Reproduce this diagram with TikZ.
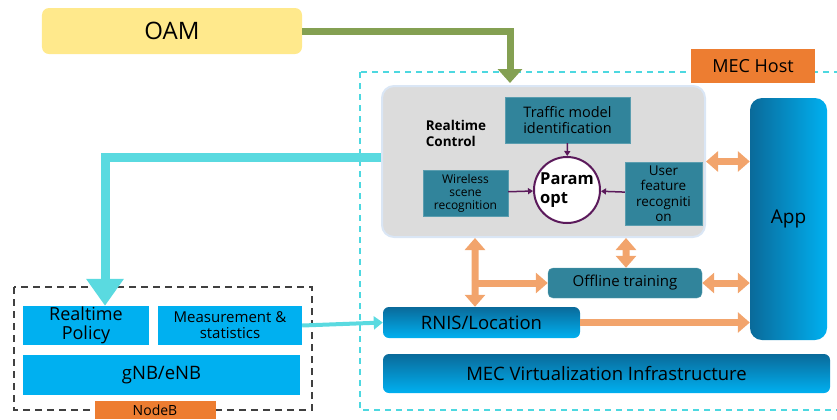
\documentclass[tikz,border=0pt]{standalone}
\usepackage{fontspec}
\setmainfont{Open Sans}
\usepackage{tikz}
\usetikzlibrary{arrows.meta,calc,positioning,shapes.geometric}
\definecolor{oamgelb}{HTML}{FFE98C}
\definecolor{oamgruen}{HTML}{84A052}
\definecolor{mecorange}{HTML}{ED7D31}
\definecolor{rahmencyan}{HTML}{4DD8E0}
\definecolor{pfeilcyan}{HTML}{5ADAE0}
\definecolor{rcgrau}{HTML}{DCDCDC}
\definecolor{rcrand}{HTML}{DAE6F5}
\definecolor{petrol}{HTML}{31849B}
\definecolor{lila}{HTML}{5B1A5B}
\definecolor{hellblau}{HTML}{00B0F0}
\definecolor{dunkelblau}{HTML}{0A6A9A}
\definecolor{pfeilorange}{HTML}{F2A46C}
\tikzset{
  kasten/.style={inner sep=0pt,align=center,text=black},
  blaukasten/.style={kasten,fill=hellblau,font=\fontsize{18bp}{19bp}\selectfont},
  petrolkasten/.style={kasten,fill=petrol,draw=petrol!80!white},
  verlaufkasten/.style={kasten,rounded corners=6bp,top color=dunkelblau,bottom color=hellblau,font=\fontsize{18.5bp}{19bp}\selectfont},
  etikett/.style={kasten,fill=mecorange},
  opfeil/.style={draw=pfeilorange,line width=7bp,{Triangle[width=20bp,length=12bp]}-{Triangle[width=20bp,length=12bp]}},
  ospitze/.style={draw=pfeilorange,line width=7bp,-{Triangle[width=20bp,length=12bp]}},
  lpfeil/.style={draw=lila,line width=1.5bp,-{Triangle[width=6bp,length=5bp]}},
}
\begin{document}
\begin{tikzpicture}[x=1bp,y=-1bp]
\useasboundingbox (0,0) rectangle (837,419);
%Rahmen MEC Host und NodeB
\draw[rahmencyan,line width=1.5bp,dash pattern=on 6bp off 5bp] (360,72) rectangle (845,410);
\draw[black!75,line width=1.5bp,dash pattern=on 7bp off 5bp] (14,287) rectangle (312,410);
\node[etikett,minimum width=124bp,minimum height=34bp,font=\fontsize{18bp}{19bp}\selectfont] (mechost) at (753,66) {MEC Host};
\node[etikett,minimum width=121bp,minimum height=18bp,font=\fontsize{14bp}{15bp}\selectfont] (nodeb) at (155,410) {NodeB};
%OAM
\node[kasten,fill=oamgelb,rounded corners=7bp,minimum width=260bp,minimum height=46bp,font=\fontsize{24bp}{25bp}\selectfont] (oam) at (172,31) {OAM};
%Realtime Control
\node[kasten,fill=rcgrau,draw=rcrand,line width=2bp,rounded corners=12bp,minimum width=323bp,minimum height=151bp] (rc) at (543.5,161.5) {};
\node[kasten,font=\fontsize{13.5bp}{16bp}\selectfont\bfseries,align=left] (rctext) at (456,133) {Realtime\\Control};
\node[petrolkasten,minimum width=125bp,minimum height=46bp,font=\fontsize{14.5bp}{16bp}\selectfont] (traffic) at (567.5,120) {Traffic model\\identification};
\node[petrolkasten,minimum width=85bp,minimum height=46bp,font=\fontsize{12bp}{13bp}\selectfont] (wireless) at (465.5,193) {Wireless\\scene\\recognition};
\node[petrolkasten,minimum width=77bp,minimum height=63bp,font=\fontsize{13.5bp}{15.5bp}\selectfont] (user) at (663.5,193.5) {User\\feature\\recogniti\\on};
\node[circle,draw=lila,line width=2bp,fill=white,minimum size=66bp,inner sep=0pt,align=left,font=\fontsize{16.5bp}{19bp}\selectfont\bfseries] (param) at (567,190) {Param\\opt};
\draw[lpfeil] (traffic) -- (param);
\draw[lpfeil] (wireless) -- (param);
\draw[lpfeil] (user) -- (param);
%App und Infrastruktur
\node[kasten,rounded corners=12bp,left color=dunkelblau,right color=hellblau,minimum width=77bp,minimum height=242bp,font=\fontsize{19bp}{20bp}\selectfont] (app) at (788.5,219) {App};
\node[petrolkasten,rounded corners=5bp,minimum width=154bp,minimum height=30bp,font=\fontsize{15bp}{16bp}\selectfont] (offline) at (625,283) {Offline training};
\node[verlaufkasten,minimum width=197bp,minimum height=31bp] (rnis) at (481.5,322.5) {RNIS/Location};
\node[verlaufkasten,minimum width=447bp,minimum height=39bp] (mecvi) at (606.5,373.5) {MEC Virtualization Infrastructure};
%NodeB Kaesten
\node[blaukasten,minimum width=126bp,minimum height=39bp] (policy) at (86,325.5) {Realtime\\Policy};
\node[blaukasten,minimum width=144bp,minimum height=39bp,font=\fontsize{15bp}{16bp}\selectfont] (mess) at (230,325.5) {Measurement \&\\statistics};
\node[blaukasten,minimum width=277bp,minimum height=40bp,font=\fontsize{18.5bp}{19bp}\selectfont] (gnb) at (161.5,375) {gNB/eNB};
%Pfeile
\draw[oamgruen,line width=7bp,-{Triangle[width=24bp,length=14bp]}] (oam.east) -| ([xshift=-33.5bp,yshift=2bp]rc.north);
\draw[pfeilcyan,line width=9bp,-{Triangle[width=36bp,length=27bp]}] ([yshift=4.5bp]rc.west) -| ([xshift=19bp]policy.north);
\draw[pfeilcyan,line width=4bp,-{Triangle[width=13bp,length=9bp]}] (mess.east) -- (rnis.west);
\coordinate (abzweig) at ([xshift=-68.5bp]rc.south |- offline.west);
\draw[opfeil] ([xshift=-68.5bp]rc.south) -- ([xshift=-6.5bp]rnis.north);
\draw[ospitze] ([xshift=-3.5bp]abzweig) -- (offline.west);
\draw[opfeil] ([xshift=82.5bp]rc.south) -- ([xshift=1bp]offline.north);
\draw[opfeil] (rc.east) -- (app.west |- rc.east);
\draw[opfeil] (offline.east) -- (app.west |- offline.east);
\draw[ospitze] (rnis.east) -- (app.west |- rnis.east);
\end{tikzpicture}
\end{document}
